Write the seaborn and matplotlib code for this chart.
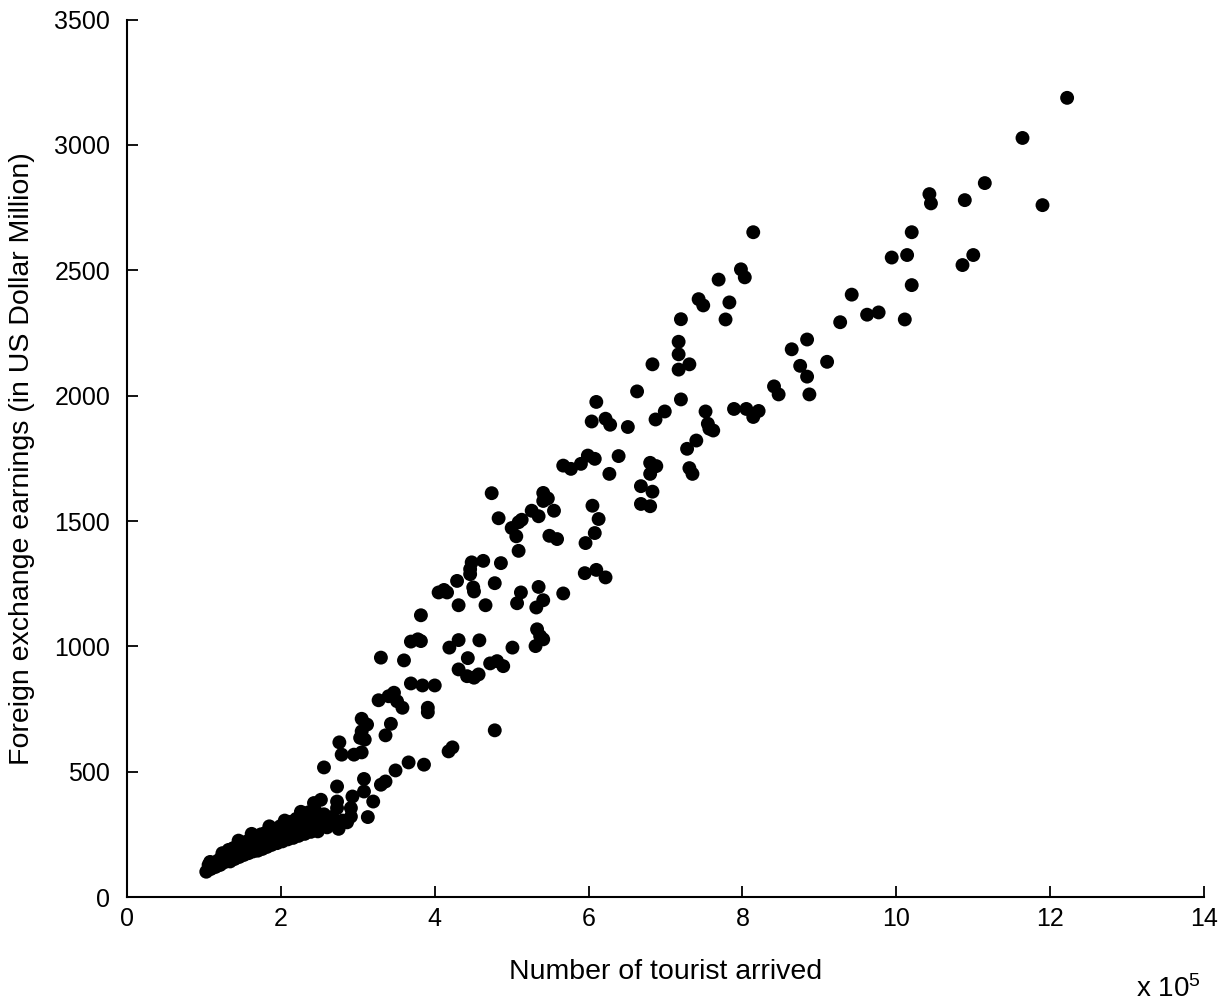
import numpy as np
import pandas as pd
import matplotlib
matplotlib.use("Agg")
import matplotlib.pyplot as plt
import seaborn as sns

# tourist arrivals (x 10^5) - dense low band
band_x = [1.03, 1.06, 1.09, 1.12, 1.15, 1.18, 1.21, 1.23, 1.26, 1.28, 1.30, 1.32, 1.34, 1.36, 1.38,
          1.40, 1.42, 1.44, 1.46, 1.48, 1.50, 1.52, 1.54, 1.56, 1.58, 1.60, 1.62, 1.64, 1.66, 1.68,
          1.70, 1.72, 1.74, 1.76, 1.78, 1.80, 1.82, 1.84, 1.86, 1.88, 1.90, 1.92, 1.95, 1.97, 1.99,
          2.02, 2.04, 2.06, 2.09, 2.11, 2.13, 2.16, 2.18, 2.20, 2.23, 2.25, 2.28, 2.31, 2.33, 2.36,
          2.39, 2.41, 2.44, 2.47, 2.50, 2.53, 2.56, 2.60, 2.63, 2.67, 2.70, 2.75, 2.80, 2.86,
          1.08, 1.24, 1.45, 1.62, 1.85, 2.05, 2.26, 2.48]
band_y = [101, 128, 112, 132, 120, 145, 128, 160, 138, 170, 150, 188, 142, 165, 195,
          152, 178, 205, 160, 188, 212, 168, 195, 222, 175, 205, 232, 182, 212, 240,
          185, 220, 250, 192, 228, 256, 200, 235, 265, 208, 242, 272, 215, 250, 282,
          222, 258, 292, 230, 265, 300, 236, 272, 312, 244, 282, 325, 252, 292, 338,
          260, 300, 350, 268, 310, 285, 330, 278, 300, 320, 290, 272, 305, 298,
          140, 175, 225, 252, 282, 305, 340, 262]

# scattered points, arrivals (x 10^5)
spread_x = [2.73, 2.73, 2.52, 2.43, 2.91, 2.91, 3.13, 2.93, 3.20, 2.73, 3.08, 3.08, 3.36, 3.30, 3.49,
            3.66, 3.86, 2.56, 2.76, 2.79, 2.95, 3.05, 3.05, 3.12, 3.05, 3.03, 3.09, 3.43, 3.36, 4.78,
            4.18, 4.23, 3.27, 3.40, 3.47, 3.51, 3.58, 3.91, 3.91, 3.69, 3.84, 4.00,
            3.82, 3.69, 3.78, 3.82, 3.60, 3.30, 4.19, 4.31, 4.58, 4.43, 4.31, 4.42, 4.51, 4.57,
            4.72, 4.81, 4.89, 5.01, 5.33, 5.37, 5.41, 5.31,
            4.63, 4.48, 4.46, 4.46, 4.86, 4.29, 4.05, 4.16, 4.12, 4.50, 4.51, 4.78, 4.31, 4.66,
            5.12, 5.07, 5.35, 5.41, 5.32, 5.67,
            4.74, 5.41, 5.47, 5.41, 5.26, 5.35, 5.55, 4.83, 5.00, 5.09, 5.13, 5.06, 5.49, 5.59,
            5.09, 6.08, 5.96, 5.95, 6.10, 6.22,
            5.67, 5.77, 5.90, 5.99, 6.08, 6.39, 6.27, 6.80, 6.88, 6.80, 6.68, 6.83, 6.68, 6.80,
            6.05, 6.13,
            6.10, 6.04, 6.22, 6.28, 6.51, 6.87, 6.99, 7.52, 7.55, 7.62, 7.57, 7.40, 7.28, 7.31,
            7.35, 7.89, 8.05, 8.14, 8.21, 6.63, 7.20,
            8.14, 7.98, 8.03, 7.69, 7.43, 7.49, 7.83, 7.78, 7.20, 7.17, 7.17, 7.17, 7.31, 6.83,
            12.22, 11.64, 11.15, 11.90, 10.43, 10.45, 10.89, 10.20, 9.94, 10.14, 10.20, 10.86,
            11.00, 9.42, 9.27, 9.62, 9.77, 10.11, 8.84, 8.64, 8.75, 8.84, 9.10, 8.87, 8.41, 8.47]
# foreign exchange earnings (US$ million)
spread_y = [381, 355, 388, 375, 355, 321, 319, 401, 381, 441, 471, 421, 461, 448, 505,
            537, 528, 517, 617, 568, 568, 577, 711, 688, 661, 635, 628, 691, 645, 665,
            581, 597, 785, 801, 815, 781, 755, 755, 737, 852, 844, 844,
            1124, 1019, 1028, 1021, 944, 955, 995, 1025, 1024, 953, 908, 881, 875, 888,
            932, 941, 921, 995, 1068, 1041, 1028, 1001,
            1341, 1335, 1308, 1288, 1332, 1261, 1215, 1215, 1225, 1235, 1219, 1252, 1164, 1164,
            1215, 1172, 1237, 1184, 1155, 1211,
            1611, 1612, 1590, 1580, 1541, 1519, 1541, 1511, 1472, 1495, 1505, 1439, 1441, 1428,
            1381, 1452, 1412, 1292, 1305, 1275,
            1721, 1708, 1728, 1761, 1748, 1759, 1688, 1732, 1719, 1688, 1639, 1617, 1568, 1559,
            1561, 1508,
            1975, 1897, 1908, 1884, 1875, 1905, 1937, 1937, 1888, 1861, 1868, 1821, 1788, 1711,
            1688, 1947, 1947, 1915, 1939, 2017, 1985,
            2652, 2504, 2472, 2463, 2385, 2360, 2372, 2304, 2305, 2215, 2165, 2104, 2125, 2125,
            3188, 3028, 2848, 2760, 2804, 2767, 2780, 2652, 2551, 2561, 2441, 2521,
            2561, 2403, 2293, 2323, 2332, 2304, 2224, 2185, 2119, 2076, 2135, 2005, 2037, 2005]

x_ticks = [0, 2, 4, 6, 8, 10, 12, 14]
y_ticks = [0, 500, 1000, 1500, 2000, 2500, 3000, 3500]

df = pd.DataFrame({"arrivals": band_x + spread_x, "earnings": band_y + spread_y})

sns.set_style("ticks", {"xtick.direction": "in", "ytick.direction": "in"})
plt.rcParams['font.family'] = ['Liberation Sans', 'DejaVu Sans']
plt.rcParams['mathtext.default'] = 'regular'
plt.rcParams['xtick.direction'] = 'in'
plt.rcParams['ytick.direction'] = 'in'
plt.rcParams['text.color'] = 'black'
plt.rcParams['axes.labelcolor'] = 'black'

fig = plt.figure(figsize=(12.25, 10.07), dpi=100)
ax = fig.add_axes([0.1037, 0.1092, 0.8792, 0.8713])

sns.scatterplot(data=df, x="arrivals", y="earnings", color="black", edgecolor="none",
                s=100, ax=ax, legend=False)

ax.set_xlim(0, 14)
ax.set_ylim(0, 3500)
ax.set_xticks(x_ticks)
ax.set_yticks(y_ticks)
ax.tick_params(direction="in", length=8, width=1.3, labelsize=18, colors="black")
ax.tick_params(axis="x", pad=7)
ax.tick_params(axis="y", pad=12)
sns.despine(ax=ax)
for s in ["left", "bottom"]:
    ax.spines[s].set_linewidth(1.5)
    ax.spines[s].set_color("black")

ax.set_xlabel("Number of tourist arrived", fontsize=20.5, labelpad=20, color="black")
ax.set_ylabel("Foreign exchange earnings (in US Dollar Million)", fontsize=20.5, labelpad=14,
              color="black")
fig.text(0.98, 0.004, r"x 10$^5$", fontsize=20, ha="right", va="bottom", color="black")

fig.savefig("out.png", dpi=100, facecolor="white")
